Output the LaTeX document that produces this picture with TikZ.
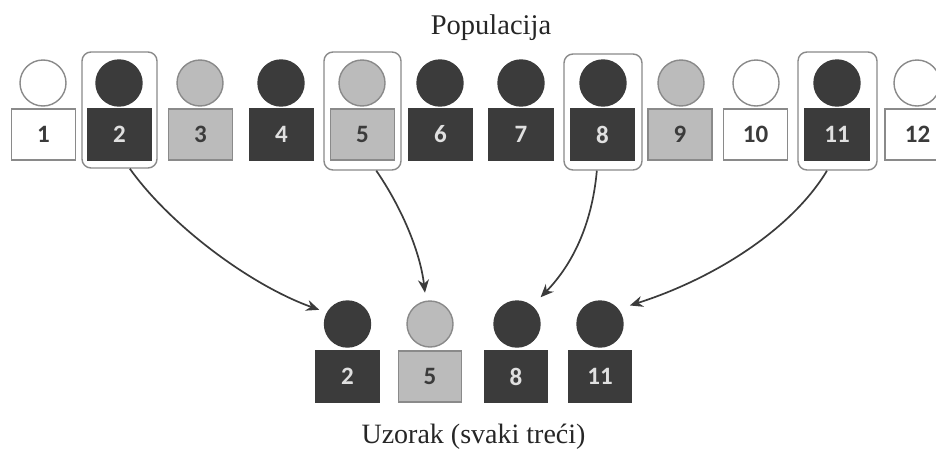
\documentclass[tikz,border=0pt]{standalone}
\usepackage{fontspec}
\setmainfont{Liberation Serif}
\newfontfamily\numfont{Carlito}
\usetikzlibrary{arrows.meta}
\definecolor{darkfill}{HTML}{3B3B3B}
\definecolor{midfill}{HTML}{BBBBBB}
\definecolor{edgegray}{HTML}{8A8A8A}
\tikzset{
  x=1pt,y=-1pt,
  square/.style={rectangle,inner sep=0pt,minimum height=51pt,font=\numfont\bfseries\fontsize{25}{27}\selectfont},
  head/.style={circle,inner sep=0pt,minimum size=46pt},
  darkp/.style={fill=darkfill,draw=darkfill,text=white!88!black},
  midp/.style={fill=midfill,draw=edgegray,text=darkfill},
  whitep/.style={fill=white,draw=edgegray,text=darkfill},
  selbox/.style={rectangle,rounded corners=9pt,draw=edgegray,line width=1.4pt,inner sep=0pt},
  arr/.style={draw=darkfill,line width=1.7pt,-{Stealth[length=13pt,width=11pt]}},
  caption/.style={inner sep=0pt,text=black!85},
}
\begin{document}
\begin{tikzpicture}[line width=1.4pt]
\path[use as bounding box,clip] (0,0) rectangle (936,450);
\fill[white] (0,0) rectangle (936,450);
% selection frames
\node[selbox,minimum width=75pt,minimum height=116pt] (sel2) at (119.5,110) {};
\node[selbox,minimum width=77pt,minimum height=118pt] (sel5) at (362.5,111) {};
\node[selbox,minimum width=78pt,minimum height=116pt] (sel8) at (603,112) {};
\node[selbox,minimum width=79pt,minimum height=118pt] (sel11) at (837.5,111) {};
% population
\foreach \n/\cx/\bx/\w/\st in {1/43/43.5/64/whitep,2/119/119.5/64/darkp,3/200/200.5/64/midp,4/281/281.5/64/darkp,5/362/362.5/64/midp,6/440/440.5/64/darkp,7/521/521/64/darkp,8/603/602.5/63/darkp,9/681/680/64/midp,10/756/755.5/64/whitep,11/837/837/64/darkp,12/917/917.5/65/whitep}{
  \node[head,\st] (c\n) at (\cx,83) {};
  \node[square,\st,minimum width=\w pt] (s\n) at (\bx,134.5) {\n};
}
% sample
\foreach \n/\cx/\bx/\st in {2/347.5/347.5/darkp,5/430/430/midp,8/517/516/darkp,11/600/600/darkp}{
  \node[head,\st] (bc\n) at (\cx,324) {};
  \node[square,\st,minimum width=63pt] (bs\n) at (\bx,376.5) {\n};
}
\node[caption,font=\fontsize{28.5}{31}\selectfont] (poptitle) at (491,28) {Populacija};
\node[caption,font=\fontsize{28}{31}\selectfont] (samptitle) at (473.5,437) {Uzorak (svaki treći)};
% connectors
\draw[arr,shorten >=8pt] (sel2.-80) .. controls (170,225) and (250,285) .. (bc2.151);
\draw[arr,shorten >=8pt] (sel5.-77) .. controls (400,205) and (420,250) .. (bc5.100);
\draw[arr,shorten >=12pt] (sel8.-96) .. controls (592,225) and (572,265) .. (bc8.50);
\draw[arr,shorten >=12pt] (sel11.-100) .. controls (790,232) and (710,280) .. (bc11.39);
\end{tikzpicture}
\end{document}
